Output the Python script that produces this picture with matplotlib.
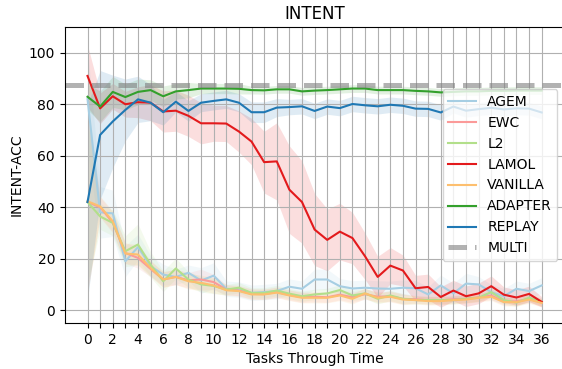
import numpy as np
import matplotlib
matplotlib.use("Agg")
import matplotlib.pyplot as plt

# ===================== data =====================
tasks = list(range(37))

agem = [82.0, 38.0, 37.6, 19.0, 24.5, 17.1, 13.8, 12.9, 14.5, 11.5, 13.4, 8.3, 8.0, 6.7, 7.0, 7.4,
        9.1, 8.3, 11.9, 11.9, 9.3, 8.4, 8.7, 8.4, 8.3, 8.7, 8.5, 6.1, 9.6, 6.5, 10.3, 10.0, 7.0, 5.4, 8.3, 7.4, 9.6]
ewc = [42.0, 40.0, 34.0, 22.2, 20.3, 16.0, 11.9, 12.9, 11.6, 11.9, 10.9, 8.0, 7.6, 6.3, 6.2, 7.0,
       5.9, 5.0, 5.2, 5.0, 6.0, 5.0, 6.2, 5.2, 5.4, 4.4, 4.2, 3.8, 3.8, 4.2, 4.4, 5.0, 5.6, 3.4, 3.4, 4.4, 3.0]
l2 = [42.0, 36.4, 33.9, 22.9, 25.5, 17.7, 11.2, 16.2, 11.9, 10.0, 9.4, 8.0, 8.7, 6.7, 6.7, 7.6,
      6.4, 5.4, 6.1, 6.5, 7.8, 5.7, 6.5, 4.4, 5.7, 4.4, 3.9, 3.9, 3.9, 3.9, 4.4, 4.8, 7.0, 3.9, 2.9, 4.8, 3.2]
lamol = [91.0, 78.4, 83.1, 80.0, 80.8, 80.6, 77.2, 77.5, 75.5, 72.6, 72.6, 72.5, 69.4, 65.5, 57.5, 57.8,
         46.8, 42.0, 31.3, 27.3, 30.5, 28.0, 20.9, 12.9, 17.3, 15.4, 8.5, 9.0, 5.1, 7.6, 5.4, 6.5, 9.3, 6.0, 4.9, 6.3, 3.2]
vanilla = [42.3, 40.3, 34.5, 22.0, 21.6, 16.4, 11.9, 12.9, 11.2, 10.6, 9.6, 7.7, 7.4, 6.1, 6.1, 6.8,
           5.7, 4.8, 4.8, 4.8, 5.7, 4.4, 6.5, 4.8, 5.2, 4.1, 3.9, 3.5, 3.5, 3.9, 4.1, 4.8, 5.2, 3.1, 3.1, 4.1, 2.8]
adapter = [82.9, 79.1, 84.8, 82.8, 84.8, 85.5, 83.1, 85.0, 85.5, 86.1, 86.1, 86.1, 86.0, 85.5, 85.4, 85.8,
           85.8, 85.0, 85.3, 85.5, 85.8, 86.1, 86.1, 85.5, 85.5, 85.5, 85.2, 85.0, 84.6, 84.8, 85.0, 85.0, 85.2, 85.2, 85.3, 85.3, 85.3]
replay = [42.0, 68.1, 73.3, 77.8, 81.9, 80.6, 76.9, 81.0, 77.4, 80.6, 81.3, 81.9, 80.6, 76.9, 76.9, 78.7,
          78.9, 79.2, 77.4, 79.1, 78.5, 80.1, 79.6, 79.2, 79.8, 79.4, 78.3, 78.2, 76.8, 79.1, 77.5, 78.1, 78.6, 78.0, 78.4, 78.3, 76.8]
multi = 87.5

# spread of the shaded bands
agem_std = [20, 10, 9, 6, 5, 4, 4, 3, 3, 5, 5, 3, 3, 3, 3, 3,
            3, 3, 4, 4, 3, 3, 3, 3, 3, 3, 3, 3, 4, 4, 4, 3, 3, 3, 3, 3, 3]
ewc_std = [35, 4, 4, 4, 4, 3, 3, 3, 3, 4, 3, 2, 2, 2, 2, 2,
           2, 2, 2, 2, 2, 2, 2, 2, 2, 2, 1.5, 1.5, 1.5, 1.5, 1.5, 1.5, 1.5, 1.5, 1.5, 1.5, 1.5]
l2_std = [32, 5, 5, 6, 8, 5, 4, 4, 3, 3, 3, 2, 2, 2, 2, 2,
          2, 2, 2, 2, 2, 2, 2, 2, 2, 2, 1.5, 1.5, 1.5, 1.5, 1.5, 1.5, 1.5, 1.5, 1.5, 1.5, 1.5]
lamol_std = [12, 6, 5, 5, 6, 7, 8, 8, 8, 8, 7, 7, 8, 9, 12, 15,
             17, 16, 14, 12, 11, 10, 9, 8, 7, 6, 5, 5, 4, 4, 4, 4, 4, 3, 3, 3, 2]
vanilla_std = [36, 4, 4, 4, 4, 3, 3, 3, 3, 3, 3, 2, 2, 2, 2, 2,
               2, 2, 2, 2, 2, 2, 2, 2, 2, 2, 1.5, 1.5, 1.5, 1.5, 1.5, 1.5, 1.5, 1.5, 1.5, 1.5, 1.5]
adapter_std = [5, 6, 6, 5, 5, 4, 4, 3, 3, 2, 2, 2, 2, 1.5, 1.5, 1.5,
               1.5, 1.5, 1.5, 1.5, 1.5, 1.5, 1.5, 1.5, 1.5, 1.5, 1.5, 1.5, 1.5, 1.5, 1.5, 1.5, 1.5, 1.5, 1.5, 1.5, 1.5]
replay_std = [38, 25, 18, 12, 9, 7, 5, 4, 4, 3.5, 3.5, 3.5, 3.5, 4, 4, 3.5,
              3, 3, 3, 3, 3, 3, 3, 3, 3, 3, 3, 3, 3, 2.5, 2.5, 2.5, 2.5, 2.5, 2.5, 2.5, 2.5]

series = [
    ("AGEM", agem, agem_std, "#a6cee3"),
    ("EWC", ewc, ewc_std, "#fb9a99"),
    ("L2", l2, l2_std, "#b2df8a"),
    ("LAMOL", lamol, lamol_std, "#e31a1c"),
    ("VANILLA", vanilla, vanilla_std, "#fdbf6f"),
    ("ADAPTER", adapter, adapter_std, "#33a02c"),
    ("REPLAY", replay, replay_std, "#1f78b4"),
]

# ============================ plot ============================
fig = plt.figure(figsize=(5.62, 3.69), dpi=100)
ax = fig.add_axes([0.1153, 0.1247, 0.889, 0.802])

for name, mean, std, color in series:
    mean = np.array(mean)
    std = np.array(std)
    ax.fill_between(tasks, mean - std, mean + std, color=color, alpha=0.14, linewidth=0)
    ax.plot(tasks, mean, color=color, lw=1.5, label=name)

ax.axhline(multi, color="gray", alpha=0.6, lw=3.6, ls="--", label="MULTI")

ax.set_xticks(tasks[::2])
ax.set_xticks(tasks[1::2], minor=True)
ax.set_yticks([0, 20, 40, 60, 80, 100])
ax.set_xlim(-1.8, 37.8)
ax.set_ylim(-5, 110)
ax.grid(True, which="both", axis="x")
ax.grid(True, which="major", axis="y")
ax.tick_params(axis="x", which="minor", length=3.5, width=0.8)

ax.set_title("INTENT")
ax.set_xlabel("Tasks Through Time")
ax.set_ylabel("INTENT-ACC")
ax.legend(loc="center right")

fig.savefig("out.png", dpi=100)
